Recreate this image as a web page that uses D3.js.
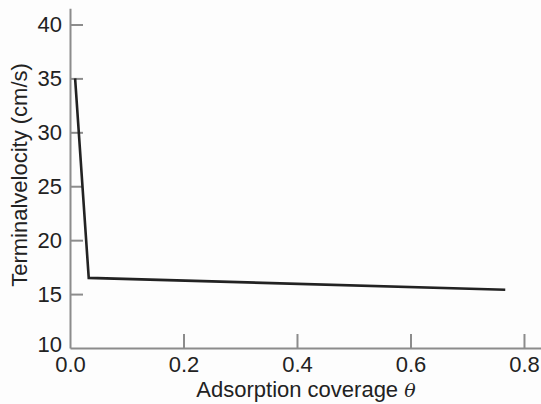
<!DOCTYPE html>
<html>
<head>
<meta charset="utf-8">
<script src="https://cdn.jsdelivr.net/npm/d3@7"></script>
<style>
  body { margin: 0; background: #fdfdfd; }
  svg { display: block; }
  text { font-family: "Liberation Sans", Arial, sans-serif; fill: #222; }
</style>
</head>
<body>
<svg width="541" height="404"></svg>
<script>
// coverage vs terminal velocity
const coverage = [0.009, 0.033, 0.767];
const velocity = [35, 16.5, 15.4];
const xTicks = [0, 0.2, 0.4, 0.6, 0.8];
const yTicks = [10, 15, 20, 25, 30, 35, 40];

const svg = d3.select('svg');
const fs = 22;

const x = d3.scaleLinear().domain([0, 0.83]).range([70, 541]);
const y = d3.scaleLinear().domain([10, 41.5]).range([348, 8.3]);

const axisColor = '#8c8c8c';

const gx = svg.append('g')
    .attr('transform', `translate(0,${y(10)})`)
    .call(d3.axisBottom(x)
      .tickValues(xTicks)
      .tickFormat(d3.format('.1f'))
      .tickSizeInner(-14)
      .tickSizeOuter(0)
      .tickPadding(8));

const gy = svg.append('g')
    .attr('transform', `translate(${x(0)},0)`)
    .call(d3.axisLeft(y)
      .tickValues(yTicks)
      .tickSizeInner(-13)
      .tickSizeOuter(0)
      .tickPadding(8));

[gx, gy].forEach(g => {
  g.attr('font-size', fs).attr('font-family', '"Liberation Sans", Arial, sans-serif');
  g.selectAll('path, line').attr('stroke', axisColor).attr('stroke-width', 2);
  g.selectAll('text').attr('fill', '#222');
});
gx.selectAll('.tick').filter(d => d === 0).select('line').remove();
gy.selectAll('.tick').filter(d => d === 10).select('line').remove();
gy.selectAll('.tick').filter(d => d === 10).select('text').attr('dy', '0.15em');

// line
const pts = coverage.map((c, i) => [c, velocity[i]]);
svg.append('path')
    .datum(pts)
    .attr('fill', 'none')
    .attr('stroke', '#222')
    .attr('stroke-width', 2.6)
    .attr('stroke-linejoin', 'miter')
    .attr('d', d3.line().x(d => x(d[0])).y(d => y(d[1])));

// titles
svg.append('text')
    .attr('x', 306)
    .attr('y', 397)
    .attr('text-anchor', 'middle')
    .attr('font-size', fs)
    .html('Adsorption coverage <tspan font-family="DejaVu Serif" font-style="italic" font-size="19">θ</tspan>');

svg.append('text')
    .attr('transform', 'translate(27,175) rotate(-90)')
    .attr('text-anchor', 'middle')
    .attr('font-size', fs)
    .text('Terminalvelocity (cm/s)');
</script>
</body>
</html>
